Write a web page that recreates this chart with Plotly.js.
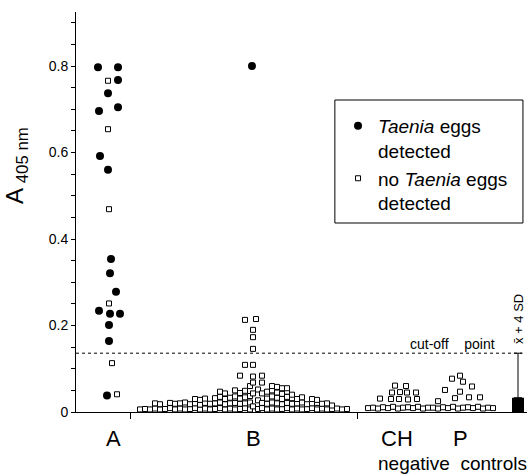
<!DOCTYPE html>
<html>
<head>
<meta charset="utf-8">
<script src="https://cdn.plot.ly/plotly-3.0.1.min.js"></script>
<style>html,body{margin:0;padding:0;background:#fff;}#chart{width:529px;height:475px;}</style>
</head>
<body>
<div id="chart"></div>
<script>
// Group A: Taenia eggs detected (filled circles)
var aEggsX = [22, 42, 42, 32, 23, 42, 24, 32, 35, 34, 40, 23, 34, 44, 33, 33, 31];
var aEggsY = [0.797, 0.797, 0.768, 0.737, 0.696, 0.705, 0.592, 0.56, 0.354, 0.321, 0.278, 0.234, 0.227, 0.227, 0.201, 0.164, 0.038];
// Group B: Taenia eggs detected
var bEggsX = [176];
var bEggsY = [0.8];
// Group A: no eggs detected (open squares)
var aNoX = [32, 32, 33, 33, 36, 41];
var aNoY = [0.766, 0.654, 0.469, 0.251, 0.113, 0.041];
// Group B: no eggs detected
var bNoX = [64, 69, 74, 79, 79, 84, 84, 89, 94, 94, 99, 99, 104, 104, 109, 109, 114, 114,
  119, 119, 119, 124, 124, 124, 129, 129, 129, 134, 134, 139, 139, 139,
  144, 144, 144, 144, 149, 149, 149, 149, 154, 154, 154, 159, 159, 159, 159,
  164, 164, 164, 164, 164, 169, 169, 169, 169, 169, 169, 174, 174, 174, 174,
  177, 177, 177, 177, 177, 177, 177, 177, 180, 182, 182, 182,
  186, 186, 186, 186, 186, 191, 191, 191, 191, 196, 196, 196, 196, 196,
  201, 201, 201, 201, 201, 206, 206, 206, 206, 206, 211, 211, 211, 211, 211,
  216, 216, 216, 216, 221, 221, 221, 226, 226, 226, 231, 231, 236, 236, 236,
  241, 241, 241, 246, 246, 251, 251, 256, 256, 261, 266, 271];
var bNoY = [0.006, 0.007, 0.006, 0.008, 0.02, 0.006, 0.018, 0.007, 0.009, 0.021, 0.006, 0.019, 0.008, 0.02, 0.006, 0.022, 0.007, 0.018,
  0.009, 0.02, 0.03, 0.006, 0.017, 0.028, 0.008, 0.021, 0.031, 0.006, 0.019, 0.007, 0.02, 0.032,
  0.009, 0.022, 0.035, 0.047, 0.006, 0.018, 0.03, 0.043, 0.008, 0.02, 0.033, 0.006, 0.021, 0.036, 0.05,
  0.007, 0.019, 0.031, 0.044, 0.084, 0.009, 0.02, 0.034, 0.049, 0.109, 0.213, 0.006, 0.022, 0.037, 0.06,
  0.013, 0.043, 0.068, 0.082, 0.109, 0.146, 0.173, 0.19, 0.215, 0.007, 0.027, 0.052,
  0.009, 0.021, 0.043, 0.068, 0.084, 0.006, 0.019, 0.031, 0.047, 0.008, 0.022, 0.036, 0.05, 0.06,
  0.006, 0.02, 0.033, 0.045, 0.058, 0.007, 0.018, 0.03, 0.042, 0.055, 0.009, 0.021, 0.035, 0.047, 0.055,
  0.006, 0.019, 0.032, 0.04, 0.008, 0.02, 0.03, 0.006, 0.022, 0.034, 0.007, 0.018, 0.009, 0.02, 0.03,
  0.006, 0.021, 0.028, 0.008, 0.019, 0.006, 0.02, 0.007, 0.015, 0.008, 0.006, 0.007];
// Negative controls CH
var chX = [292, 297, 302, 307, 312, 317, 322, 327, 332, 337, 342, 347, 352,
  304, 315, 316, 319, 323, 324, 330, 331, 332, 340, 341];
var chY = [0.009, 0.01, 0.008, 0.011, 0.009, 0.012, 0.008, 0.01, 0.011, 0.009, 0.012, 0.008, 0.01,
  0.031, 0.03, 0.045, 0.061, 0.03, 0.046, 0.06, 0.045, 0.029, 0.045, 0.03];
// Negative controls P
var pX = [357, 362, 367, 372, 377, 382, 387, 392, 397, 402, 407, 412, 417,
  369, 376, 384, 387, 396, 384, 379, 393, 404, 362];
var pY = [0.01, 0.008, 0.011, 0.009, 0.012, 0.008, 0.01, 0.011, 0.009, 0.012, 0.008, 0.01, 0.009,
  0.051, 0.077, 0.084, 0.07, 0.059, 0.047, 0.032, 0.034, 0.034, 0.025];
// Controls: mean and cut-off (mean + 4 SD)
var ctrlX = [442];
var ctrlMean = [0.033];
var cutOff = 0.136;

var groupLabels = ['A', 'B', 'CH', 'P'];
var groupLabelX = [37, 177, 321, 384];
var separatorTicks = [54, 281];
var yTickVals = [0, 0.2, 0.4, 0.6, 0.8];
var yTickText = ['0', '0.2', '0.4', '0.6', '0.8'];

var FONT = 'Liberation Sans, Arial, Helvetica, sans-serif';

var circleMarker = {symbol: 'circle', size: 8, color: 'black'};
var squareMarker = {symbol: 'square', size: 5, color: 'white', line: {color: 'black', width: 1}};

var traces = [
  {x: aEggsX.concat(bEggsX), y: aEggsY.concat(bEggsY), type: 'scatter', mode: 'markers',
   marker: circleMarker, name: '<i>Taenia</i> eggs<br>detected', showlegend: true},
  {x: aNoX.concat(bNoX, chX, pX), y: aNoY.concat(bNoY, chY, pY), type: 'scatter', mode: 'markers',
   marker: squareMarker, name: 'no <i>Taenia</i> eggs<br>detected', showlegend: true},
  {x: ctrlX, y: ctrlMean, type: 'bar', width: 12, marker: {color: 'black', line: {width: 0}},
   showlegend: false,
   error_y: {type: 'data', symmetric: false, array: ctrlMean.map(function (m) { return cutOff - m; }),
             arrayminus: [0], color: 'black', thickness: 1, width: 4}}
];

var annotations = [];
groupLabels.forEach(function (t, i) {
  annotations.push({x: groupLabelX[i], xref: 'x', y: -0.065, yref: 'paper', text: t, showarrow: false,
    xanchor: 'center', yanchor: 'middle', font: {family: FONT, size: 22, color: 'black'}});
});
annotations.push({x: 376, xref: 'x', y: -0.1275, yref: 'paper', text: 'negative  controls', showarrow: false,
  xanchor: 'center', yanchor: 'middle', font: {family: FONT, size: 19, color: 'black'}});
annotations.push({x: 452 - 76, xref: 'x', y: cutOff, yref: 'y', text: 'cut-off    point', showarrow: false,
  xanchor: 'center', yanchor: 'bottom', yshift: -1, font: {family: FONT, size: 14, color: 'black'}});
annotations.push({x: ctrlX[0], xref: 'x', y: 0.215, yref: 'y', text: 'x\u0304 + 4 SD', showarrow: false,
  textangle: -90, xanchor: 'center', yanchor: 'middle', font: {family: FONT, size: 13, color: 'black'}});
annotations.push({x: -0.131, xref: 'paper', y: 0.6175, yref: 'paper', text: 'A<sub> 405 nm</sub>', showarrow: false,
  textangle: -90, xanchor: 'center', yanchor: 'middle', font: {family: FONT, size: 24, color: 'black'}});

var layout = {
  width: 529, height: 475,
  margin: {l: 76, r: 2, t: 12, b: 63, pad: 0},
  paper_bgcolor: 'white', plot_bgcolor: 'white',
  font: {family: FONT, color: 'black'},
  showlegend: true,
  legend: {x: 0.581, y: 0.7625, xanchor: 'left', yanchor: 'top', borderwidth: 0,
           bgcolor: 'rgba(0,0,0,0)', font: {family: FONT, size: 19, color: 'black'}, valign: 'top'},
  xaxis: {range: [0, 451], showline: true, linecolor: 'black', linewidth: 1, showgrid: false, zeroline: false,
          tickmode: 'array', tickvals: separatorTicks, ticks: 'outside', ticklen: 6,
          tickcolor: 'black', showticklabels: false, fixedrange: true},
  yaxis: {range: [0, 0.925], showline: true, linecolor: 'black', linewidth: 1, showgrid: false, zeroline: false,
          tickmode: 'array', tickvals: yTickVals, ticktext: yTickText, ticks: 'outside', ticklen: 4,
          tickcolor: 'black', tickfont: {family: FONT, size: 14, color: 'black'},
          minor: {dtick: 0.05, tick0: 0, ticks: 'outside', ticklen: 4, tickcolor: 'black', showgrid: false}},
  shapes: [
    {type: 'line', xref: 'paper', x0: 0, x1: 0.99, yref: 'y', y0: cutOff, y1: cutOff,
     line: {color: 'black', width: 1, dash: 'dot'}},
    {type: 'rect', xref: 'paper', yref: 'paper', x0: 0.574, x1: 0.991, y0: 0.4725, y1: 0.78,
     fillcolor: 'white', layer: 'below', line: {color: 'black', width: 1}}
  ],
  annotations: annotations
};

Plotly.newPlot('chart', traces, layout, {displayModeBar: false, staticPlot: true});
</script>
</body>
</html>
